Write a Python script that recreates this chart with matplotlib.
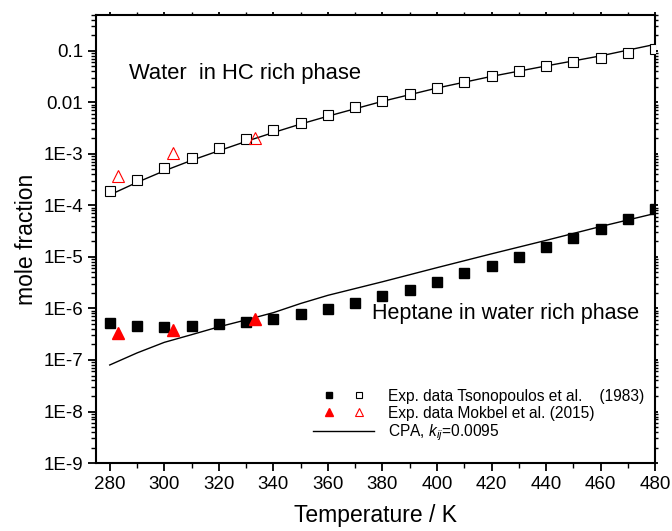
import numpy as np
import matplotlib
matplotlib.use("Agg")
import matplotlib.pyplot as plt
from matplotlib.ticker import LogLocator, FixedLocator, MultipleLocator, NullFormatter
from matplotlib.legend_handler import HandlerTuple

plt.rcParams['font.family'] = ['Liberation Sans', 'DejaVu Sans']
plt.rcParams['mathtext.fontset'] = 'custom'
plt.rcParams['mathtext.it'] = 'Liberation Sans:italic'
plt.rcParams['mathtext.rm'] = 'Liberation Sans'

# Tsonopoulos et al. (1983): temperatures in K
T_tson = [280, 290, 300, 310, 320, 330, 340, 350, 360, 370, 380,
          390, 400, 410, 420, 430, 440, 450, 460, 470, 480]
# water in the hydrocarbon-rich phase
x_water_tson = [1.9e-4, 3.1e-4, 5.3e-4, 8.3e-4, 1.3e-3, 1.95e-3, 2.9e-3, 4.0e-3,
                5.6e-3, 8.0e-3, 1.08e-2, 1.44e-2, 1.9e-2, 2.5e-2, 3.2e-2, 4.0e-2,
                5.0e-2, 6.1e-2, 7.4e-2, 9.0e-2, 1.11e-1]
# heptane in the water-rich phase
x_hept_tson = [5.2e-7, 4.5e-7, 4.4e-7, 4.5e-7, 4.9e-7, 5.4e-7, 6.3e-7, 7.9e-7,
               9.9e-7, 1.29e-6, 1.76e-6, 2.33e-6, 3.3e-6, 4.8e-6, 6.8e-6, 1.0e-5,
               1.55e-5, 2.3e-5, 3.5e-5, 5.4e-5, 8.5e-5]

# Mokbel et al. (2015)
T_mok = [283.15, 303.15, 333.15]
x_water_mok = [3.8e-4, 1.03e-3, 2.0e-3]
x_hept_mok = [3.4e-7, 3.9e-7, 6.3e-7]

# CPA model, kij = 0.0095
T_cpa = [280, 290, 300, 310, 320, 330, 340, 350, 360, 380, 400, 420, 440, 460, 480]
x_water_cpa = [1.6e-4, 2.8e-4, 4.7e-4, 7.5e-4, 1.15e-3, 1.75e-3, 2.6e-3, 3.8e-3,
               5.4e-3, 1.05e-2, 1.9e-2, 3.2e-2, 5.1e-2, 8.0e-2, 1.34e-1]
x_hept_cpa = [8.0e-8, 1.37e-7, 2.2e-7, 3.1e-7, 4.4e-7, 6.0e-7, 8.3e-7, 1.25e-6,
              1.8e-6, 3.3e-6, 6.2e-6, 1.15e-5, 2.1e-5, 3.9e-5, 7.0e-5]

fig = plt.figure(figsize=(6.72, 5.31), dpi=100)
ax = fig.add_axes([0.143, 0.128, 0.832, 0.844])

ax.plot(T_cpa, x_water_cpa, color='black', lw=1.0, zorder=2)
ax.plot(T_cpa, x_hept_cpa, color='black', lw=1.0, zorder=2)

ax.plot(T_tson, x_water_tson, ls='none', marker='s', ms=6.5, mfc='white',
        mec='black', mew=0.8, zorder=3)
ax.plot(T_tson, x_hept_tson, ls='none', marker='s', ms=6.5, mfc='black',
        mec='black', zorder=3)
ax.plot(T_mok, x_water_mok, ls='none', marker='^', ms=8.5, mfc='none',
        mec='red', mew=0.8, zorder=4)
ax.plot(T_mok, x_hept_mok, ls='none', marker='^', ms=8.5, mfc='red',
        mec='red', zorder=4)

ax.set_yscale('log')
ax.set_xlim(275, 480)
ax.set_ylim(1e-9, 0.5)

ax.xaxis.set_major_locator(MultipleLocator(20))
ax.xaxis.set_minor_locator(MultipleLocator(10))
ax.yaxis.set_minor_locator(LogLocator(base=10, subs=np.arange(2, 10), numticks=15))
ax.yaxis.set_minor_formatter(NullFormatter())

ylabels = {1e-9: '1E-9', 1e-8: '1E-8', 1e-7: '1E-7', 1e-6: '1E-6', 1e-5: '1E-5',
           1e-4: '1E-4', 1e-3: '1E-3', 1e-2: '0.01', 1e-1: '0.1'}
yticks = list(ylabels.keys())
ax.yaxis.set_major_locator(FixedLocator(yticks))
ax.set_yticklabels([ylabels[v] for v in yticks])

ax.tick_params(axis='both', which='major', direction='out', length=6, width=1.3,
               labelsize=13.5)
ax.tick_params(axis='both', which='minor', direction='out', length=3.5, width=1.0)
ax.tick_params(top=True, right=True, which='both')
for sp in ax.spines.values():
    sp.set_linewidth(1.5)

# shorter ticks on top and right frame
for t in ax.xaxis.get_major_ticks() + ax.xaxis.get_minor_ticks():
    t.tick2line.set_markersize(2.5)
for t in ax.yaxis.get_major_ticks() + ax.yaxis.get_minor_ticks():
    t.tick2line.set_markersize(2.5)

ax.set_xlabel('Temperature / K', fontsize=16.5, labelpad=8)
ax.set_ylabel('mole fraction', fontsize=16.5, labelpad=4)

ax.text(287, 0.036, 'Water  in HC rich phase', fontsize=15.8, va='center', ha='left')
ax.text(376, 7.9e-7, 'Heptane in water rich phase', fontsize=15.5, va='center', ha='left')

# legend entries
h_ts_f, = ax.plot([], [], ls='none', marker='s', ms=4, mfc='black', mec='black')
h_ts_o, = ax.plot([], [], ls='none', marker='s', ms=4, mfc='white', mec='black', mew=0.8)
h_mk_f, = ax.plot([], [], ls='none', marker='^', ms=6, mfc='red', mec='red')
h_mk_o, = ax.plot([], [], ls='none', marker='^', ms=6, mfc='none', mec='red', mew=0.8)
h_cpa, = ax.plot([], [], color='black', lw=1.0)

leg = ax.legend([(h_ts_f, h_ts_o), (h_mk_f, h_mk_o), h_cpa],
                ['Exp. data Tsonopoulos et al.    (1983)',
                 'Exp. data Mokbel et al. (2015)',
                 r'CPA, $k_{ij}$=0.0095'],
                handler_map={tuple: HandlerTuple(ndivide=None, pad=0.0)},
                loc='lower right', bbox_to_anchor=(1.0, 0.02),
                frameon=False, fontsize=11.2, handlelength=3.9,
                handletextpad=0.9, labelspacing=0.12, borderaxespad=0.3)

fig.savefig('out.png', dpi=100)
